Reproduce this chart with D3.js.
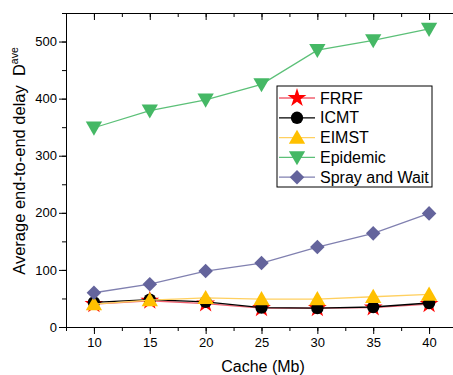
<!DOCTYPE html>
<html><head><meta charset="utf-8">
<script src="https://cdn.jsdelivr.net/npm/d3@7"></script>
<style>body{margin:0;background:#fff}svg{display:block}text{font-family:"Liberation Sans",Arial,sans-serif}</style>
</head><body><svg id="c" width="453" height="375"></svg>
<script>
const cache = [10, 15, 20, 25, 30, 35, 40];
const frrf = [40, 46, 41, 33, 33, 34, 40];
const icmt = [43, 48, 44, 34, 33, 35, 42];
const eimst = [40, 47, 51, 49, 49, 53, 57];
const epidemic = [349, 379, 398, 425, 485, 502, 522];
const sprayWait = [60, 75, 98, 112, 140, 164, 199];
const seriesNames = ["FRRF", "ICMT", "EIMST", "Epidemic", "Spray and Wait"];
const xTicks = [10, 15, 20, 25, 30, 35, 40];
const yTicks = [0, 100, 200, 300, 400, 500];

const styles = [
  {line: "#f06070", fill: "#ff0000", sym: d3.symbolStar, size: 110, rot: 0},
  {line: "#000000", fill: "#000000", sym: d3.symbolCircle, size: 120, rot: 0},
  {line: "#ffd060", fill: "#ffc000", sym: d3.symbolTriangle, size: 115, rot: 0},
  {line: "#5cc078", fill: "#45b865", sym: d3.symbolTriangle, size: 115, rot: 180},
  {line: "#8080b0", fill: "#64649c", sym: d3.symbolDiamond2, size: 135, rot: 0}
];
const values = [frrf, icmt, eimst, epidemic, sprayWait];

const svg = d3.select("#c");
const x = d3.scaleLinear().domain([7.5, 42.5]).range([66, 457]);
const y = d3.scaleLinear().domain([0, 550]).range([327, 13]);

const minorX = d3.range(7.5, 42.6, 2.5);
const minorY = d3.range(0, 551, 50);
function styleAxis(g){ g.selectAll("path,line").attr("stroke","#000").attr("stroke-width",1); g.selectAll("text").attr("font-size",13).attr("fill","#000"); }

const xb = svg.append("g").attr("transform","translate(0,327)")
  .call(d3.axisBottom(x).tickValues(minorX).tickSize(4).tickFormat("").tickSizeOuter(0));
styleAxis(xb);
const xb2 = svg.append("g").attr("transform","translate(0,327)")
  .call(d3.axisBottom(x).tickValues(xTicks).tickSize(7).tickPadding(4).tickFormat(d3.format("d")).tickSizeOuter(0));
styleAxis(xb2); xb2.select(".domain").remove();

const xt = svg.append("g").attr("transform","translate(0,13)")
  .call(d3.axisTop(x).tickValues(minorX).tickSize(-4).tickFormat("").tickSizeOuter(0));
styleAxis(xt);
const xt2 = svg.append("g").attr("transform","translate(0,13)")
  .call(d3.axisTop(x).tickValues(xTicks).tickSize(-7).tickFormat("").tickSizeOuter(0));
styleAxis(xt2); xt2.select(".domain").remove();

const yl = svg.append("g").attr("transform","translate(66,0)")
  .call(d3.axisLeft(y).tickValues(minorY).tickSize(4).tickFormat("").tickSizeOuter(0));
styleAxis(yl);
const yl2 = svg.append("g").attr("transform","translate(66,0)")
  .call(d3.axisLeft(y).tickValues(yTicks).tickSize(7).tickPadding(2).tickFormat(d3.format("d")).tickSizeOuter(0));
styleAxis(yl2); yl2.select(".domain").remove();

svg.append("text").attr("x", 263).attr("y", 372).attr("text-anchor","middle").attr("font-size",16).text("Cache (Mb)");
const yt = svg.append("text").attr("transform","translate(25,161) rotate(-90)").attr("text-anchor","middle").attr("font-size",16.5).style("white-space","pre");
yt.append("tspan").text("Average end-to-end delay  D");
yt.append("tspan").attr("font-size",10.5).attr("dy",-7).text("ave");

const line = d3.line().x((d,i)=>x(cache[i])).y(d=>y(d));
values.forEach((vals, k) => {
  const st = styles[k];
  svg.append("path").attr("d", line(vals)).attr("fill","none").attr("stroke", st.line).attr("stroke-width",1.3);
  svg.selectAll(null).data(vals).enter().append("path")
    .attr("d", d3.symbol().type(st.sym).size(st.size))
    .attr("transform", (d,i)=>`translate(${x(cache[i])},${y(d) + (st.sym===d3.symbolTriangle ? (st.rot? -1.5: 1.5):0)}) rotate(${st.rot})`)
    .attr("fill", st.fill);
});

const lg = svg.append("g");
lg.append("rect").attr("x",277).attr("y",86).attr("width",155).attr("height",101).attr("fill","#fff").attr("stroke","#000").attr("stroke-width",1);
seriesNames.forEach((n,k) => {
  const st = styles[k];
  const yy = 98 + k*19.8;
  lg.append("line").attr("x1",279).attr("x2",315).attr("y1",yy).attr("y2",yy).attr("stroke",st.line).attr("stroke-width",1.3);
  lg.append("path").attr("d", d3.symbol().type(st.sym).size(st.size)).attr("transform",`translate(297,${yy + (st.sym===d3.symbolTriangle ? (st.rot? -1.5: 1.5):0)}) rotate(${st.rot})`).attr("fill",st.fill);
  lg.append("text").attr("x",320).attr("y",yy+5.5).attr("font-size",16).text(n);
});
</script></body></html>
